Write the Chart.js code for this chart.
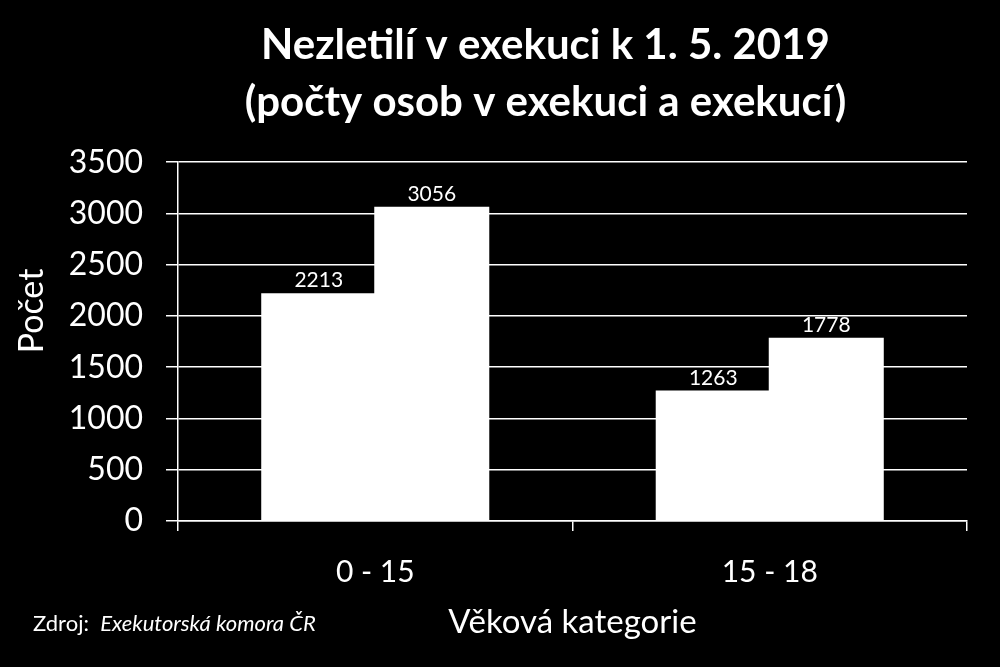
<!DOCTYPE html>
<html>
<head>
<meta charset="utf-8">
<script src="https://cdn.jsdelivr.net/npm/chart.js@4/dist/chart.umd.min.js"></script>
<style>
  html, body { margin: 0; padding: 0; background: #000; }
  #wrap { width: 1000px; height: 667px; }
</style>
</head>
<body>
<div id="wrap"><canvas id="myChart"></canvas></div>
<script>
let categories = ['0 - 15', '15 - 18'];
let osoby = [2213, 1263];   // pocty osob v exekuci
let exekuce = [3056, 1778]; // pocty exekuci
let yTicks = [0, 500, 1000, 1500, 2000, 2500, 3000, 3500];

let font = 'Lato, "Open Sans", sans-serif';

// popisky hodnot nad sloupci
let valueLabels = {
    id: 'valueLabels',
    afterDatasetsDraw(chart) {
        let ctx = chart.ctx;
        ctx.save();
        ctx.fillStyle = '#fff';
        ctx.font = '21px ' + font;
        ctx.textAlign = 'center';
        ctx.textBaseline = 'alphabetic';
        chart.data.datasets.forEach((ds, i) => {
            chart.getDatasetMeta(i).data.forEach((bar, j) => {
                ctx.fillText(ds.data[j], bar.x, bar.y - 7);
            });
        });
        ctx.restore();
    }
};

// titulek posunout doprava jako v originale, osa y + zdroj
let extras = {
    id: 'extras',
    afterLayout(chart) {
        chart.titleBlock.left = 124;
    },
    afterDraw(chart) {
        let ctx = chart.ctx;
        ctx.save();
        ctx.fillStyle = '#fff';
        // nazev osy y
        ctx.save();
        ctx.translate(43, 311);
        ctx.rotate(-Math.PI / 2);
        ctx.textAlign = 'center';
        ctx.textBaseline = 'alphabetic';
        ctx.font = '34px ' + font;
        ctx.fillText('Počet', 0, 0);
        ctx.restore();
        // zdroj
        ctx.textBaseline = 'alphabetic';
        ctx.font = '22px ' + font;
        ctx.fillText('Zdroj:', 33, 631);
        let w = ctx.measureText('Zdroj:  ').width;
        ctx.font = 'italic 22px ' + font;
        ctx.fillText('Exekutorská komora ČR', 33 + w, 631);
        ctx.restore();
    }
};

new Chart(document.getElementById('myChart').getContext('2d'), {
    type: 'bar',
    data: {
        labels: categories,
        datasets: [
            { label: 'Osoby', data: osoby, backgroundColor: '#fff' },
            { label: 'Exekuce', data: exekuce, backgroundColor: '#fff' }
        ]
    },
    plugins: [valueLabels, extras],
    options: {
        responsive: true,
        maintainAspectRatio: false,
        animation: false,
        layout: { padding: { left: 0, right: 33, top: 0, bottom: 0 } },
        datasets: { bar: { barPercentage: 1, categoryPercentage: 0.573, borderWidth: 0, inflateAmount: 1 } },
        plugins: {
            legend: { display: false },
            tooltip: { enabled: false },
            title: {
                display: true,
                text: ['Nezletilí v exekuci k 1. 5. 2019', '(počty osob v exekuci a exekucí)'],
                color: '#fff',
                font: { family: font, size: 42, weight: 'bold', lineHeight: 1.36 },
                padding: { top: 17, bottom: 31 }
            }
        },
        scales: {
            x: {
                grid: { display: true, drawOnChartArea: false, drawTicks: true, tickLength: 10, color: '#fff', offset: true, lineWidth: 1.5 },
                border: { color: '#fff', width: 1.5 },
                ticks: { color: '#fff', font: { family: font, size: 30 }, padding: 23 },
                title: { display: true, text: 'Věková kategorie', color: '#fff', font: { family: font, size: 33 }, padding: { top: 15, bottom: 25 } },
                afterFit(scale) { scale.height = 146; }
            },
            y: {
                min: 0,
                max: 3500,
                afterBuildTicks(scale) { scale.ticks = yTicks.map(v => ({ value: v })); },
                grid: { color: '#fff', lineWidth: 1.5, tickLength: 12 },
                border: { color: '#fff', width: 1.5 },
                ticks: { color: '#fff', font: { family: font, size: 32 }, padding: 23, callback: v => String(v) },
                afterFit(scale) { scale.width = 178; }
            }
        }
    }
});
</script>
</body>
</html>
